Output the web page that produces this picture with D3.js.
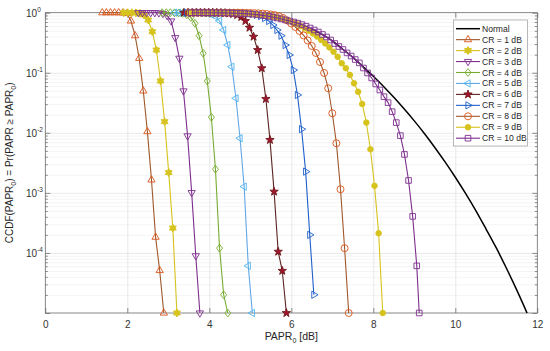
<!DOCTYPE html>
<html lang="en">
<head>
<meta charset="UTF-8">
<meta name="viewport" content="width=device-width, initial-scale=1.0">
<title>CCDF of PAPR</title>
<script src="https://d3js.org/d3.v7.min.js"></script>
<style>
    body { margin: 0; background: #fff; }
    svg { display: block; font-family: "Liberation Sans", Arial, sans-serif; }
    .grid line { stroke: #e0e0e0; stroke-width: 0.7; }
    .grid-minor line { stroke: #ededed; stroke-width: 0.6; }
    .grid path, .grid-minor path, .axis path { display: none; }
    .axis line { stroke: #5e5e5e; stroke-width: 0.7; }
    .axis text { fill: #333; font-size: 10px; }
</style>
</head>
<body>
<svg id="chart" width="550" height="351"></svg>
<script>
// ---- data ----
const xTickValues = [0, 2, 4, 6, 8, 10, 12];
const yTickValues = [1e-4, 1e-3, 1e-2, 1e-1, 1];
const yTickExps = ["-4", "-3", "-2", "-1", "0"];
const seriesNames = ["Normal", "CR = 1 dB", "CR = 2 dB", "CR = 3 dB", "CR = 4 dB", "CR = 5 dB",
    "CR = 6 dB", "CR = 7 dB", "CR = 8 dB", "CR = 9 dB", "CR = 10 dB"];

const paprNormal = [3.5, 4, 4.5, 5, 5.5, 5.75, 6, 6.25, 6.5, 6.75, 7, 7.25, 7.5, 7.75, 8, 8.25, 8.5, 8.75,
    9, 9.25, 9.5, 9.75, 10, 10.25, 10.5, 10.75, 11, 11.25, 11.5, 11.75];
const ccdfNormal = [1, 0.998, 0.99, 0.95, 0.865, 0.795, 0.714, 0.624, 0.535, 0.434, 0.341, 0.249, 0.18, 0.126,
    0.0874, 0.0592, 0.039, 0.0251, 0.0158, 0.00966, 0.00571, 0.00328, 0.00182, 0.00098, 0.000507, 0.00025,
    0.000121, 0.000055, 0.000024, 0.00001];

const paprCR1 = [1.39, 1.49, 1.59, 1.69, 1.79, 1.89, 1.99, 2.09, 2.19, 2.29, 2.39, 2.49, 2.59, 2.69, 2.79, 2.89];
const ccdfCR1 = [1, 1, 1, 1, 1, 0.992, 0.970, 0.728, 0.414, 0.174, 0.0498, 0.01047, 0.001645, 0.000183, 0.000051, 0.00001];

const paprCR2 = [1.91, 2.01, 2.11, 2.21, 2.31, 2.41, 2.51, 2.61, 2.71, 2.81, 2.91, 3.01, 3.11, 3.21];
const ccdfCR2 = [1, 1, 1, 0.994, 0.977, 0.916, 0.756, 0.483, 0.239, 0.073, 0.01536, 0.002177, 0.000259, 0.00001];

const paprCR3 = [2.27, 2.37, 2.47, 2.57, 2.67, 2.77, 2.87, 2.97, 3.07, 3.17, 3.27, 3.37, 3.47, 3.57, 3.67, 3.77];
const ccdfCR3 = [1, 1, 1, 1, 1, 0.992, 0.970, 0.899, 0.728, 0.384, 0.174, 0.0498, 0.00888, 0.00101, 0.0000895, 0.00001];

const paprCR4 = [2.85, 2.95, 3.05, 3.15, 3.25, 3.35, 3.45, 3.55, 3.65, 3.75, 3.85, 3.95, 4.05, 4.15, 4.25, 4.35, 4.45];
const ccdfCR4 = [1, 1, 1, 0.996, 0.989, 0.970, 0.923, 0.832, 0.666, 0.414, 0.211, 0.073, 0.0182, 0.00248, 0.00012, 0.0000201, 0.00001];

const paprCR5 = [3.15, 3.25, 3.35, 3.45, 3.55, 3.65, 3.75, 3.85, 3.95, 4.05, 4.15, 4.25, 4.35, 4.45, 4.55, 4.65,
    4.75, 4.85, 4.95, 5.05];
const ccdfCR5 = [1, 1, 1, 1, 1, 1, 0.996, 0.989, 0.970, 0.933, 0.865, 0.728, 0.515, 0.290, 0.126, 0.0376,
    0.00813, 0.00127, 0.000061, 0.00001];

const paprCR6 = [3.38, 3.48, 3.58, 3.68, 3.78, 3.88, 3.98, 4.08, 4.18, 4.28, 4.38, 4.48, 4.58, 4.68, 4.78, 4.88,
    4.98, 5.08, 5.18, 5.28, 5.38, 5.48, 5.58, 5.68, 5.78, 5.88];
const ccdfCR6 = [1, 1, 1, 1, 1, 1, 1, 1, 0.996, 0.992, 0.985, 0.973, 0.951, 0.916, 0.848, 0.728,
    0.563, 0.399, 0.239, 0.119, 0.0366, 0.00762, 0.00105, 0.000105, 0.0000504, 0.00001];

const paprCR7 = [3.45, 3.55, 3.65, 3.75, 3.85, 3.95, 4.05, 4.15, 4.25, 4.35, 4.45, 4.55, 4.65, 4.75, 4.85, 4.95,
    5.05, 5.15, 5.25, 5.35, 5.45, 5.55, 5.65, 5.75, 5.85, 5.95, 6.05, 6.15, 6.25, 6.35, 6.45, 6.55];
const ccdfCR7 = [1, 1, 1, 1, 1, 1, 1, 1, 1, 1, 1, 1, 0.994, 0.989, 0.981, 0.970,
    0.951, 0.923, 0.881, 0.816, 0.728, 0.624, 0.515, 0.414, 0.290, 0.198, 0.111, 0.0427, 0.0115, 0.00226, 0.0002, 0.0000201];

const paprCR8 = [3.5, 3.6, 3.7, 3.8, 3.9, 4.0, 4.1, 4.2, 4.3, 4.4, 4.5, 4.6, 4.7, 4.8, 4.9, 5.0, 5.1, 5.2, 5.3, 5.4,
    5.5, 5.6, 5.7, 5.8, 5.9, 6.0, 6.1, 6.2, 6.3, 6.4, 6.5, 6.6, 6.7, 6.8, 6.9, 7.0, 7.1, 7.2, 7.3, 7.4];
const ccdfCR8 = [1, 1, 1, 1, 1, 1, 1, 1, 1, 1, 1, 1, 1, 1, 0.994, 0.990, 0.985, 0.977, 0.966, 0.951,
    0.933, 0.909, 0.871, 0.816, 0.742, 0.661, 0.578, 0.496, 0.418, 0.345, 0.279, 0.2135, 0.151, 0.0992,
    0.0552, 0.0212, 0.00671, 0.00115, 0.00012, 0.00001];

const paprCR9 = [3.53, 3.63, 3.73, 3.83, 3.93, 4.03, 4.13, 4.23, 4.33, 4.43, 4.53, 4.63, 4.73, 4.83, 4.93, 5.03,
    5.13, 5.23, 5.33, 5.43, 5.53, 5.63, 5.73, 5.83, 5.93, 6.03, 6.13, 6.23, 6.33, 6.43, 6.53, 6.63, 6.73, 6.83,
    6.93, 7.03, 7.13, 7.23, 7.33, 7.43, 7.53, 7.63, 7.73, 7.83, 7.93, 8.03, 8.13, 8.23];
const ccdfCR9 = [1, 1, 1, 1, 1, 1, 1, 1, 0.996, 0.992, 0.989, 0.983, 0.977, 0.970, 0.962, 0.951,
    0.937, 0.923, 0.905, 0.885, 0.861, 0.835, 0.804, 0.771, 0.733, 0.692, 0.649, 0.601, 0.550, 0.500, 0.451, 0.402,
    0.351, 0.307, 0.264, 0.224, 0.185, 0.144, 0.119, 0.0921, 0.0667, 0.0483, 0.0302, 0.0148, 0.00532, 0.00131,
    0.000213, 0.00001];

const paprCR10 = [3.56, 3.66, 3.76, 3.86, 3.96, 4.06, 4.16, 4.26, 4.36, 4.46, 4.56, 4.66, 4.76, 4.86, 4.96, 5.06,
    5.16, 5.26, 5.36, 5.46, 5.56, 5.66, 5.76, 5.86, 5.96, 6.06, 6.16, 6.26, 6.36, 6.46, 6.56, 6.66, 6.76, 6.86,
    6.96, 7.06, 7.16, 7.26, 7.36, 7.46, 7.56, 7.66, 7.76, 7.86, 7.96, 8.06, 8.16, 8.26, 8.36, 8.46, 8.56, 8.66,
    8.76, 8.86, 8.96, 9.06, 9.12];
const ccdfCR10 = [1, 1, 1, 1, 1, 1, 0.996, 0.994, 0.992, 0.989, 0.985, 0.981, 0.973, 0.966, 0.955, 0.944,
    0.930, 0.912, 0.891, 0.868, 0.842, 0.816, 0.786, 0.756, 0.728, 0.700, 0.669, 0.634, 0.596, 0.556, 0.515, 0.477,
    0.434, 0.394, 0.351, 0.307, 0.274, 0.244, 0.214, 0.190, 0.166, 0.146, 0.120, 0.0992, 0.0819, 0.0651,
    0.0517, 0.0400, 0.0318, 0.0225, 0.0148, 0.00898, 0.00437, 0.00161, 0.000406, 0.000061, 0.00001];

// ---- layout / style ----
const plot = { l: 45.3, r: 537.3, t: 12.7, b: 313 };

const styles = [
    { line: "#000000", width: 1.5, shape: null },
    { line: "#a0572a", stroke: "#d95319", fill: "none", shape: "triUp" },
    { line: "#d6c31e", stroke: "#d6c31e", fill: "#d6c31e", shape: "hexagram" },
    { line: "#7e2f8e", stroke: "#7e2f8e", fill: "none", shape: "triDown" },
    { line: "#77ac30", stroke: "#77ac30", fill: "none", shape: "diamond" },
    { line: "#62a8e6", stroke: "#4db3ee", fill: "none", shape: "triLeft" },
    { line: "#5c2323", stroke: "#6e1a1a", fill: "#a2142f", shape: "pentagram" },
    { line: "#1f60c8", stroke: "#1f60c8", fill: "none", shape: "triRight" },
    { line: "#a0572a", stroke: "#d95319", fill: "none", shape: "circle" },
    { line: "#d6c31e", stroke: "#d6c31e", fill: "#d6c31e", shape: "dot" },
    { line: "#7e2f8e", stroke: "#7e2f8e", fill: "none", shape: "square" }
];

const seriesPapr = [paprNormal, paprCR1, paprCR2, paprCR3, paprCR4, paprCR5, paprCR6, paprCR7, paprCR8, paprCR9, paprCR10];
const seriesCcdf = [ccdfNormal, ccdfCR1, ccdfCR2, ccdfCR3, ccdfCR4, ccdfCR5, ccdfCR6, ccdfCR7, ccdfCR8, ccdfCR9, ccdfCR10];

const svg = d3.select("#chart");
const xScale = d3.scaleLinear().domain([0, 12]).range([plot.l, plot.r]);
const yScale = d3.scaleLog().domain([1e-5, 1]).range([plot.b, plot.t]);

const decades = [1e-5, 1e-4, 1e-3, 1e-2, 1e-1, 1];
const minorTicks = [];
decades.slice(0, -1).forEach(d => { for (let m = 2; m <= 9; m++) minorTicks.push(d * m); });

// grid
svg.append("g").attr("class", "grid-minor")
    .attr("transform", `translate(${plot.l},0)`)
    .call(d3.axisLeft(yScale).tickValues(minorTicks).tickSize(-(plot.r - plot.l)).tickFormat(""));
svg.append("g").attr("class", "grid")
    .attr("transform", `translate(${plot.l},0)`)
    .call(d3.axisLeft(yScale).tickValues(decades.slice(1, -1)).tickSize(-(plot.r - plot.l)).tickFormat(""));
svg.append("g").attr("class", "grid")
    .attr("transform", `translate(0,${plot.b})`)
    .call(d3.axisBottom(xScale).tickValues(xTickValues.slice(1, -1)).tickSize(-(plot.b - plot.t)).tickFormat(""));

// ticks (inside, all four sides)
svg.append("g").attr("class", "axis")
    .attr("transform", `translate(0,${plot.b})`)
    .call(d3.axisBottom(xScale).tickValues(xTickValues).tickSize(-5).tickPadding(8));
svg.append("g").attr("class", "axis")
    .attr("transform", `translate(0,${plot.t})`)
    .call(d3.axisTop(xScale).tickValues(xTickValues).tickSize(-5).tickFormat(""));
svg.append("g").attr("class", "axis")
    .attr("transform", `translate(${plot.l},0)`)
    .call(d3.axisLeft(yScale).tickValues(decades).tickSize(-5).tickFormat(""));
svg.append("g").attr("class", "axis")
    .attr("transform", `translate(${plot.l},0)`)
    .call(d3.axisLeft(yScale).tickValues(minorTicks).tickSize(-2.5).tickFormat(""));
svg.append("g").attr("class", "axis")
    .attr("transform", `translate(${plot.r},0)`)
    .call(d3.axisRight(yScale).tickValues(decades).tickSize(-5).tickFormat(""));
svg.append("g").attr("class", "axis")
    .attr("transform", `translate(${plot.r},0)`)
    .call(d3.axisRight(yScale).tickValues(minorTicks).tickSize(-2.5).tickFormat(""));

// y tick labels 10^k
const yLab = svg.append("g").attr("fill", "#333").attr("font-size", "10px");
yTickValues.forEach((v, i) => {
    const t = yLab.append("text").attr("x", 26).attr("y", yScale(v) + 3.8);
    t.append("tspan").text("10");
    t.append("tspan").attr("dy", -4.5).attr("font-size", "6.5px").text(yTickExps[i]);
});

// box
svg.append("rect")
    .attr("x", plot.l).attr("y", plot.t)
    .attr("width", plot.r - plot.l).attr("height", plot.b - plot.t)
    .attr("fill", "none").attr("stroke", "#6a6a6a").attr("stroke-width", 0.8);

// marker shapes
function star(n, ro, ri, rot) {
    const pts = [];
    for (let i = 0; i < 2 * n; i++) {
        const a = rot + Math.PI * i / n;
        const rr = i % 2 ? ri : ro;
        pts.push([rr * Math.sin(a), -rr * Math.cos(a)]);
    }
    return "M" + pts.map(p => p[0].toFixed(2) + "," + p[1].toFixed(2)).join("L") + "Z";
}
function poly(n, r, rot) {
    const pts = [];
    for (let i = 0; i < n; i++) {
        const a = rot + 2 * Math.PI * i / n;
        pts.push([r * Math.sin(a), -r * Math.cos(a)]);
    }
    return "M" + pts.map(p => p[0].toFixed(2) + "," + p[1].toFixed(2)).join("L") + "Z";
}
function circ(r) {
    return `M${r},0A${r},${r} 0 1,1 ${-r},0A${r},${r} 0 1,1 ${r},0Z`;
}
const shapes = {
    triUp: poly(3, 4.2, 0),
    triDown: poly(3, 4.2, Math.PI),
    triLeft: poly(3, 4.2, -Math.PI / 2),
    triRight: poly(3, 4.2, Math.PI / 2),
    diamond: "M0,-3.9L3,0L0,3.9L-3,0Z",
    square: "M-2.8,-2.8h5.6v5.6h-5.6Z",
    circle: circ(3.5),
    dot: circ(2.8),
    pentagram: star(5, 4.4, 1.8, 0),
    hexagram: star(6, 4, 2.3, 0)
};

const line = d3.line().x(d => xScale(d[0])).y(d => yScale(d[1]));

seriesPapr.forEach((papr, i) => {
    const st = styles[i];
    const pts = papr.map((p, j) => [p, seriesCcdf[i][j]]);
    const g = svg.append("g");
    g.append("path")
        .datum(pts)
        .attr("d", i === 0 ? line.curve(d3.curveMonotoneX)(pts) : d3.line().x(d => xScale(d[0])).y(d => yScale(d[1]))(pts))
        .attr("fill", "none")
        .attr("stroke", st.line)
        .attr("stroke-width", st.width || 1.1);
    if (st.shape) {
        g.selectAll("path.mk")
            .data(pts)
            .enter().append("path")
            .attr("class", "mk")
            .attr("d", shapes[st.shape])
            .attr("transform", d => `translate(${xScale(d[0])},${yScale(d[1])})`)
            .attr("fill", st.fill)
            .attr("stroke", st.stroke)
            .attr("stroke-width", 0.9);
    }
});

// axis titles
const xt = svg.append("text")
    .attr("x", (plot.l + plot.r) / 2).attr("y", 340)
    .attr("text-anchor", "middle").attr("font-size", "10.5px").attr("fill", "#262626");
xt.append("tspan").text("PAPR");
xt.append("tspan").attr("dy", 2.5).attr("font-size", "7px").text("0");
xt.append("tspan").attr("dy", -2.5).text(" [dB]");

const yt = svg.append("text")
    .attr("transform", `translate(13,${(plot.t + plot.b) / 2}) rotate(-90)`)
    .attr("text-anchor", "middle").attr("font-size", "10px").attr("fill", "#262626");
yt.append("tspan").text("CCDF(PAPR");
yt.append("tspan").attr("dy", 2.5).attr("font-size", "7px").text("0");
yt.append("tspan").attr("dy", -2.5).text(") = Pr(PAPR \u2265 PAPR");
yt.append("tspan").attr("dy", 2.5).attr("font-size", "7px").text("0");
yt.append("tspan").attr("dy", -2.5).text(")");

// legend
const lg = svg.append("g");
lg.append("rect")
    .attr("x", 453.5).attr("y", 20).attr("width", 74).attr("height", 126)
    .attr("fill", "#fff").attr("stroke", "#9a9a9a").attr("stroke-width", 0.7);
seriesNames.forEach((name, i) => {
    const st = styles[i];
    const yy = 28.7 + i * 10.95;
    lg.append("line")
        .attr("x1", 456).attr("x2", 480).attr("y1", yy).attr("y2", yy)
        .attr("stroke", st.line).attr("stroke-width", st.width || 1.1);
    if (st.shape) {
        lg.append("path")
            .attr("d", shapes[st.shape])
            .attr("transform", `translate(468,${yy})`)
            .attr("fill", st.fill).attr("stroke", st.stroke).attr("stroke-width", 0.9);
    }
    lg.append("text")
        .attr("x", 482).attr("y", yy).attr("dy", "0.35em")
        .attr("font-size", "8.6px").attr("fill", "#262626")
        .text(name);
});
</script>
</body>
</html>
